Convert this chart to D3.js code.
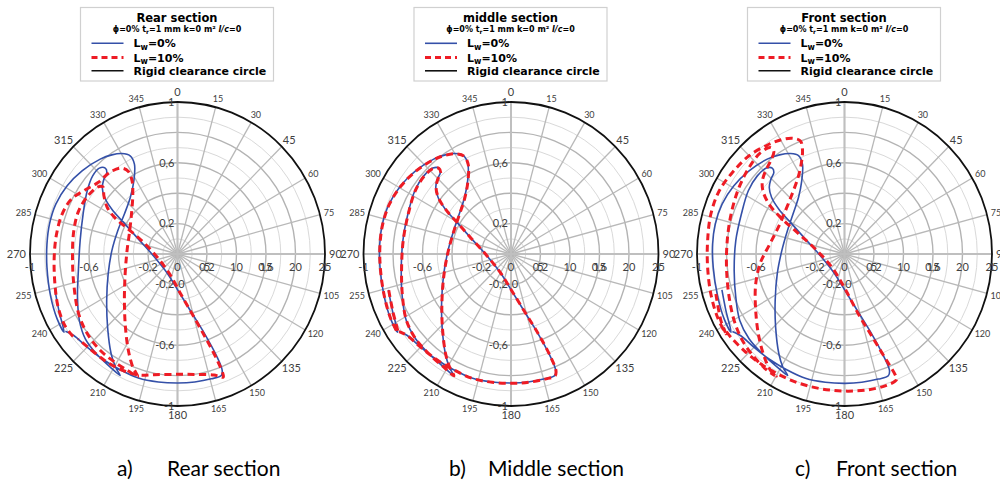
<!DOCTYPE html>
<html><head><meta charset="utf-8">
<script src="https://cdn.jsdelivr.net/npm/d3@7"></script>
<style>body{margin:0;background:#fff}svg{display:block}</style>
</head><body>
<svg id="chart" width="1000" height="481"></svg>
<script>
// ---------- data ----------
const angleLabels = [0,15,30,45,60,75,90,105,120,135,150,165,180,195,210,225,240,255,270,285,300,315,330,345];
const radarTickValues = [0,5,10,15,20,25];
const radarTickLabels = ["0","5","10","15","20","25"];
const radarMax = 25;
const radarMinorValues = [2.5,7.5,12.5,17.5,22.5];
const radarMajorValues = [5,10,15,20];
const xTickValues = [-1,-0.6,-0.2,0.2,0.6,1];
const xTickLabels = ["-1","-0,6","-0,2","0,2","0,6","1"];
const yTickValues = [1,0.6,0.2,-0.2,-0.6,-1];
const yTickLabels = ["1","0,6","0,2","-0,2","-0,6","-1"];
const clearanceRadius = 1;
const panelTitles = ["Rear section","middle section","Front section"];
const captionLetters = ["a)","b)","c)"];
const captionTexts = ["Rear section","Middle section","Front section"];

// orbit points (x, y) in clearance units
const rearLw0 = [[-0.831,-0.236],[-0.804,-0.372],[-0.769,-0.514],[-0.816,-0.427],[-0.861,-0.274],[-0.885,-0.088],[-0.885,0.066],[-0.868,0.197],[-0.825,0.328],[-0.748,0.449],[-0.647,0.547],[-0.524,0.624],[-0.445,0.652],[-0.378,0.661],[-0.321,0.646],[-0.292,0.591],[-0.296,0.481],[-0.320,0.372],[-0.360,0.263],[-0.405,0.153],[-0.445,0.022],[-0.470,-0.131],[-0.480,-0.306],[-0.474,-0.481],[-0.450,-0.656],[-0.420,-0.744],[-0.389,-0.799],[-0.456,-0.744],[-0.550,-0.656],[-0.625,-0.558],[-0.665,-0.438],[-0.678,-0.284],[-0.672,-0.109],[-0.660,0.088],[-0.640,0.263],[-0.612,0.416],[-0.575,0.514],[-0.530,0.565],[-0.490,0.565],[-0.479,0.536],[-0.499,0.492],[-0.510,0.438],[-0.494,0.372],[-0.445,0.295],[-0.366,0.208],[-0.265,0.098],[-0.164,-0.011],[-0.074,-0.120],[0.004,-0.241],[0.094,-0.383],[0.184,-0.525],[0.263,-0.667],[0.303,-0.766],[0.297,-0.799],[0.229,-0.821],[0.117,-0.842],[0.004,-0.849],[-0.130,-0.842],[-0.265,-0.816],[-0.389,-0.761],[-0.512,-0.689],[-0.625,-0.602],[-0.703,-0.536],[-0.760,-0.508]];
const rearLw10 = [[-0.708,-0.543],[-0.764,-0.470],[-0.809,-0.350],[-0.831,-0.197],[-0.836,-0.022],[-0.820,0.131],[-0.782,0.263],[-0.719,0.361],[-0.629,0.420],[-0.539,0.470],[-0.461,0.536],[-0.382,0.565],[-0.333,0.543],[-0.308,0.481],[-0.303,0.394],[-0.310,0.284],[-0.324,0.153],[-0.342,0.022],[-0.355,-0.131],[-0.360,-0.306],[-0.353,-0.481],[-0.333,-0.635],[-0.303,-0.744],[-0.270,-0.805],[-0.333,-0.770],[-0.427,-0.711],[-0.528,-0.630],[-0.611,-0.525],[-0.670,-0.394],[-0.701,-0.219],[-0.712,-0.022],[-0.703,0.153],[-0.670,0.284],[-0.607,0.383],[-0.539,0.442],[-0.506,0.442],[-0.499,0.383],[-0.476,0.306],[-0.427,0.241],[-0.348,0.175],[-0.247,0.092],[-0.146,-0.011],[-0.056,-0.127],[0.022,-0.263],[0.112,-0.416],[0.198,-0.565],[0.270,-0.700],[0.308,-0.788],[0.310,-0.810],[0.247,-0.796],[0.112,-0.792],[-0.022,-0.792],[-0.157,-0.794],[-0.258,-0.796],[-0.371,-0.766],[-0.494,-0.700],[-0.607,-0.613],[-0.674,-0.558]];
const middleLw0 = [[-0.831,-0.236],[-0.804,-0.372],[-0.769,-0.514],[-0.816,-0.427],[-0.861,-0.274],[-0.888,-0.088],[-0.890,0.066],[-0.872,0.197],[-0.827,0.328],[-0.748,0.449],[-0.647,0.547],[-0.524,0.624],[-0.445,0.652],[-0.378,0.661],[-0.321,0.646],[-0.292,0.591],[-0.294,0.481],[-0.315,0.372],[-0.351,0.263],[-0.389,0.153],[-0.427,0.022],[-0.456,-0.131],[-0.470,-0.306],[-0.467,-0.481],[-0.445,-0.656],[-0.418,-0.744],[-0.389,-0.799],[-0.456,-0.744],[-0.557,-0.656],[-0.647,-0.558],[-0.710,-0.438],[-0.737,-0.284],[-0.744,-0.109],[-0.733,0.088],[-0.699,0.263],[-0.652,0.416],[-0.591,0.514],[-0.530,0.565],[-0.490,0.565],[-0.479,0.536],[-0.499,0.492],[-0.510,0.438],[-0.494,0.372],[-0.445,0.295],[-0.366,0.208],[-0.265,0.098],[-0.164,-0.011],[-0.074,-0.120],[0.004,-0.241],[0.094,-0.383],[0.184,-0.525],[0.263,-0.667],[0.303,-0.766],[0.297,-0.799],[0.229,-0.821],[0.117,-0.842],[0.004,-0.849],[-0.130,-0.842],[-0.265,-0.816],[-0.389,-0.761],[-0.512,-0.689],[-0.625,-0.602],[-0.703,-0.536],[-0.760,-0.508]];
const middleLw10 = [[-0.829,-0.238],[-0.802,-0.374],[-0.767,-0.516],[-0.814,-0.429],[-0.859,-0.276],[-0.886,-0.090],[-0.888,0.064],[-0.870,0.195],[-0.825,0.326],[-0.746,0.447],[-0.645,0.545],[-0.522,0.622],[-0.443,0.650],[-0.376,0.659],[-0.319,0.644],[-0.290,0.589],[-0.292,0.479],[-0.313,0.370],[-0.349,0.261],[-0.387,0.151],[-0.425,0.020],[-0.454,-0.133],[-0.468,-0.308],[-0.465,-0.483],[-0.443,-0.658],[-0.416,-0.746],[-0.387,-0.801],[-0.454,-0.746],[-0.555,-0.658],[-0.645,-0.560],[-0.708,-0.440],[-0.735,-0.286],[-0.742,-0.111],[-0.731,0.086],[-0.697,0.261],[-0.650,0.414],[-0.589,0.512],[-0.528,0.563],[-0.488,0.563],[-0.477,0.534],[-0.497,0.490],[-0.508,0.436],[-0.492,0.370],[-0.443,0.293],[-0.364,0.206],[-0.263,0.096],[-0.162,-0.013],[-0.072,-0.122],[0.006,-0.243],[0.096,-0.385],[0.186,-0.527],[0.265,-0.669],[0.305,-0.768],[0.299,-0.801],[0.231,-0.823],[0.119,-0.844],[0.006,-0.851],[-0.128,-0.844],[-0.263,-0.818],[-0.387,-0.763],[-0.510,-0.691],[-0.623,-0.604],[-0.701,-0.538],[-0.758,-0.510]];
const frontLw0 = [[-0.831,-0.236],[-0.804,-0.372],[-0.769,-0.514],[-0.816,-0.427],[-0.861,-0.274],[-0.890,-0.088],[-0.894,0.066],[-0.876,0.197],[-0.830,0.328],[-0.750,0.449],[-0.647,0.547],[-0.524,0.624],[-0.440,0.652],[-0.366,0.661],[-0.310,0.646],[-0.285,0.591],[-0.290,0.481],[-0.312,0.372],[-0.349,0.263],[-0.387,0.153],[-0.425,0.022],[-0.456,-0.131],[-0.470,-0.306],[-0.467,-0.481],[-0.445,-0.656],[-0.418,-0.744],[-0.385,-0.799],[-0.456,-0.744],[-0.557,-0.656],[-0.647,-0.558],[-0.710,-0.438],[-0.737,-0.284],[-0.748,-0.109],[-0.737,0.088],[-0.699,0.263],[-0.652,0.416],[-0.591,0.514],[-0.530,0.565],[-0.490,0.565],[-0.479,0.536],[-0.499,0.492],[-0.510,0.438],[-0.494,0.372],[-0.445,0.295],[-0.366,0.208],[-0.265,0.098],[-0.164,-0.011],[-0.074,-0.120],[0.004,-0.241],[0.094,-0.383],[0.184,-0.525],[0.263,-0.667],[0.305,-0.766],[0.297,-0.801],[0.229,-0.823],[0.117,-0.844],[0.004,-0.851],[-0.130,-0.844],[-0.265,-0.818],[-0.389,-0.763],[-0.512,-0.691],[-0.625,-0.604],[-0.703,-0.538],[-0.760,-0.510]];
const frontLw10 = [[-0.872,-0.263],[-0.838,-0.438],[-0.804,-0.525],[-0.861,-0.416],[-0.906,-0.263],[-0.928,-0.088],[-0.928,0.088],[-0.906,0.263],[-0.849,0.416],[-0.760,0.536],[-0.647,0.646],[-0.512,0.722],[-0.422,0.753],[-0.351,0.761],[-0.299,0.744],[-0.285,0.689],[-0.292,0.602],[-0.315,0.503],[-0.351,0.405],[-0.396,0.295],[-0.449,0.175],[-0.512,0.055],[-0.569,-0.055],[-0.602,-0.197],[-0.602,-0.372],[-0.580,-0.547],[-0.535,-0.700],[-0.494,-0.777],[-0.463,-0.805],[-0.524,-0.766],[-0.613,-0.678],[-0.692,-0.569],[-0.748,-0.438],[-0.782,-0.284],[-0.800,-0.088],[-0.793,0.109],[-0.764,0.284],[-0.715,0.438],[-0.647,0.569],[-0.569,0.667],[-0.501,0.700],[-0.479,0.674],[-0.501,0.613],[-0.535,0.547],[-0.557,0.481],[-0.553,0.416],[-0.512,0.328],[-0.434,0.241],[-0.321,0.142],[-0.198,0.033],[-0.085,-0.088],[0.004,-0.230],[0.094,-0.394],[0.196,-0.558],[0.285,-0.700],[0.346,-0.799],[0.353,-0.827],[0.285,-0.864],[0.162,-0.893],[0.004,-0.902],[-0.153,-0.888],[-0.299,-0.853],[-0.434,-0.799],[-0.569,-0.722],[-0.681,-0.635],[-0.771,-0.547],[-0.816,-0.492]];
const panelSeries = [[rearLw0, rearLw10],[middleLw0, middleLw10],[frontLw0, frontLw10]];

// ---------- layout ----------
const svg = d3.select("#chart");
const panelCX = [177.5, 511, 844.5];
const CY = 254, RX = 147.5, RY = 152;
const BLUE = "#3450a8", RED = "#ee1c25";
const labelFont = "Lato, 'Liberation Sans', sans-serif";
const legendFont = "'DejaVu Sans', sans-serif";

panelTitles.forEach((title, i) => {
  const g = svg.append("g");
  const xs = d3.scaleLinear().domain([-1, 1]).range([panelCX[i] - RX, panelCX[i] + RX]);
  const ys = d3.scaleLinear().domain([-1, 1]).range([CY + RY, CY - RY]);
  const rs = d3.scaleLinear().domain([0, radarMax]).range([0, 1]);
  const ell = (r) => ({cx: xs(0), cy: ys(0), rx: xs(r) - xs(0), ry: ys(0) - ys(r)});
  const setEll = function(v){ const e = ell(rs(v)); d3.select(this).attr("cx",e.cx).attr("cy",e.cy).attr("rx",e.rx).attr("ry",e.ry); };

  g.selectAll(".minor").data(radarMinorValues).join("ellipse").each(setEll)
    .attr("fill","none").attr("stroke","#d9d9d9").attr("stroke-width",1);
  g.selectAll(".major").data(radarMajorValues).join("ellipse").each(setEll)
    .attr("fill","none").attr("stroke","#b3b3b3").attr("stroke-width",1.4);
  g.selectAll(".spoke").data(angleLabels).join("line")
    .attr("x1", xs(0)).attr("y1", ys(0))
    .attr("x2", a => xs(Math.sin(a*Math.PI/180)))
    .attr("y2", a => ys(Math.cos(a*Math.PI/180)))
    .attr("stroke","#b8b8b8").attr("stroke-width",1.3);
  g.append("line").attr("x1",xs(-1)).attr("x2",xs(1)).attr("y1",ys(0)).attr("y2",ys(0)).attr("stroke","#bfbfbf").attr("stroke-width",2);
  g.append("line").attr("x1",xs(0)).attr("x2",xs(0)).attr("y1",ys(-1)).attr("y2",ys(1)).attr("stroke","#bfbfbf").attr("stroke-width",2);

  // angle labels, placed just outside the clearance circle
  g.selectAll(".alab").data(angleLabels).join("text")
    .attr("text-anchor","middle").attr("dy","0.35em")
    .attr("font-family", labelFont)
    .attr("font-size", a => (a % 45 === 0) ? 11 : 9)
    .attr("fill","#404040").text(a => a)
    .each(function(a){
      const r = a*Math.PI/180, s = Math.sin(r), c = Math.cos(r);
      const w = this.getComputedTextLength();
      const fs = (a % 45 === 0) ? 11 : 9;
      const x = xs(0) + (xs(1) - xs(0) + 4) * s + (w/2) * s;
      const y = ys(0) - (ys(0) - ys(1) + 5) * c - fs*0.4*c;
      d3.select(this).attr("x", x).attr("y", y);
    });

  const ce = ell(clearanceRadius);
  g.append("ellipse").attr("cx",ce.cx).attr("cy",ce.cy).attr("rx",ce.rx).attr("ry",ce.ry)
    .attr("fill","none").attr("stroke","#111").attr("stroke-width",1.8);

  g.selectAll(".xl").data(xTickValues).join("text")
    .attr("x", v => xs(v)).attr("y", ys(0) + 17).attr("text-anchor","middle")
    .attr("font-family", labelFont).attr("font-size",11).attr("fill","#404040")
    .text((v,k) => xTickLabels[k]);
  g.selectAll(".rl").data(radarTickValues).join("text")
    .attr("x", v => xs(rs(v))).attr("y", ys(0) + 17).attr("text-anchor","middle")
    .attr("font-family", labelFont).attr("font-size",11).attr("fill","#404040")
    .text((v,k) => radarTickLabels[k]);
  g.selectAll(".yl").data(yTickValues).join("text")
    .attr("x", xs(0) - 3).attr("y", v => ys(v)).attr("dy","0.35em").attr("text-anchor","end")
    .attr("font-family", labelFont).attr("font-size",11).attr("fill","#404040")
    .text((v,k) => yTickLabels[k]);
  g.append("text").attr("x", xs(0) + 4).attr("y", ys(-0.2)).attr("dy","0.35em").attr("text-anchor","middle")
    .attr("font-family", labelFont).attr("font-size",11).attr("fill","#404040").text("0");

  const line = d3.line().x(d => xs(d[0])).y(d => ys(d[1])).curve(d3.curveCatmullRom.alpha(0.5));
  const [s0, s1] = panelSeries[i];
  g.append("path").attr("d", line(s0)).attr("fill","none").attr("stroke",BLUE).attr("stroke-width",1.6);
  g.append("path").attr("d", line(s1)).attr("fill","none").attr("stroke",RED).attr("stroke-width",3).attr("stroke-dasharray","7,4.5");

  // legend
  const bx = panelCX[i] - 97, by = 7.5, bw = 193, bh = 73.5;
  const lg = svg.append("g");
  lg.append("rect").attr("x",bx).attr("y",by).attr("width",bw).attr("height",bh)
    .attr("fill","#fff").attr("stroke","#d0d0d0").attr("stroke-width",1.2);
  lg.append("text").attr("x",bx+bw/2).attr("y",21.5).attr("text-anchor","middle")
    .attr("font-family",legendFont).attr("font-weight","bold").attr("font-size",11.5).text(title);
  const sub = lg.append("text").attr("x",bx+bw/2).attr("y",32).attr("text-anchor","middle")
    .attr("font-family",legendFont).attr("font-weight","bold").attr("font-size",8);
  sub.append("tspan").text("\u03D5=0% t");
  sub.append("tspan").attr("font-size",6).attr("dy",1.5).text("r");
  sub.append("tspan").attr("dy",-1.5).text("=1 mm k=0 m\u00B2 ");
  sub.append("tspan").attr("font-style","italic").text("l/c");
  sub.append("tspan").text("=0");
  const items = [
    {y:43.3, color:BLUE, w:1.6, dash:null, name:"0%"},
    {y:57.5, color:RED, w:3, dash:"6,4", name:"10%"},
    {y:70.8, color:"#111", w:1.6, dash:null, name:null}
  ];
  items.forEach(it => {
    lg.append("line").attr("x1",bx+11).attr("x2",bx+43).attr("y1",it.y).attr("y2",it.y)
      .attr("stroke",it.color).attr("stroke-width",it.w).attr("stroke-dasharray",it.dash);
    const t = lg.append("text").attr("x",bx+53).attr("y",it.y+4)
      .attr("font-family",legendFont).attr("font-weight","bold").attr("font-size",11);
    if (it.name) {
      t.append("tspan").text("L");
      t.append("tspan").attr("font-size",8).attr("dy",2.5).text("w");
      t.append("tspan").attr("dy",-2.5).text("=" + it.name);
    } else {
      t.text("Rigid clearance circle");
    }
  });
});

// captions
const capLetterX = [117, 449, 795];
const capTextX = [167, 488, 836];
captionLetters.forEach((c, i) => {
  svg.append("text").attr("x",capLetterX[i]).attr("y",476).attr("font-family","Lato, sans-serif")
    .attr("font-size",21).attr("fill","#000").text(c);
  svg.append("text").attr("x",capTextX[i]).attr("y",476).attr("font-family","Lato, sans-serif")
    .attr("font-size",21).attr("fill","#000").text(captionTexts[i]);
});
</script>
</body></html>
